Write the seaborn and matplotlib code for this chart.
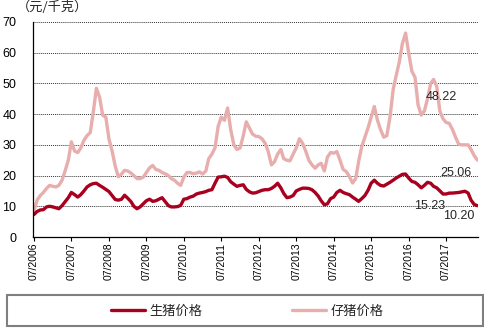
import numpy as np
import pandas as pd
import matplotlib
matplotlib.use("Agg")
import matplotlib.pyplot as plt
import matplotlib.dates as mdates
from matplotlib.patches import Rectangle
import seaborn as sns

# ---- data (monthly, 07/2006 .. 05/2018), 元/千克 ----
start_month = "2006-07-01"
hog_price = [
    7.3, 8.3, 8.8, 8.9, 9.8, 10, 9.8, 9.5, 9.2, 10.2,
    11.5, 12.8, 14.5, 13.8, 13, 13.8, 15, 16.3, 17, 17.4,
    17.5, 16.8, 16.2, 15.5, 14.8, 13.5, 12.2, 12, 12.3, 13.6,
    12.6, 11.5, 10, 9.2, 9.8, 10.8, 11.8, 12.3, 11.6, 11.8,
    12.3, 12.8, 11.5, 10.2, 9.8, 9.8, 9.9, 10.3, 12.3, 12.5,
    13, 13.3, 14, 14.3, 14.5, 14.8, 15.2, 15.4, 17.5, 19.5,
    19.6, 19.8, 19.4, 18, 17.2, 16.5, 16.8, 17, 15.5, 14.7,
    14.3, 14.4, 14.8, 15.2, 15.4, 15.4, 15.8, 16.5, 17.5, 16,
    14.2, 12.8, 13, 13.5, 15, 15.5, 15.9, 15.9, 15.8, 15.4,
    14.5, 13.3, 11.8, 10.5, 10.8, 12.5, 13, 14.5, 15.2, 14.5,
    14.1, 13.8, 13, 12.3, 11.6, 12.5, 13.5, 15.2, 17.5, 18.5,
    17.5, 16.8, 16.6, 17.2, 17.8, 18.5, 19.2, 19.8, 20.4, 20.5,
    19.2, 18.1, 17.8, 17, 16, 16.8, 17.8, 17.5, 16.5, 16,
    15, 14, 14, 14.3, 14.3, 14.4, 14.5, 14.7, 14.9, 14.3,
    12, 10.6, 10.2,
]
piglet_price = [
    8.5, 12, 13.5, 14.5, 15.8, 16.8, 16.5, 16.3, 16.8, 18.5,
    21.5, 25, 31, 28, 27.5, 29, 31.5, 33, 34, 41,
    48.4, 45.5, 39.7, 39, 32, 28, 23, 19.6, 20.5, 21.7,
    21.5, 20.8, 20, 19, 19, 19.5, 21, 22.5, 23.3, 22,
    21.7, 21, 20.6, 20, 19, 18.5, 17.5, 16.8, 19.5, 21,
    21, 20.6, 20.8, 21.2, 20.5, 21.5, 25.5, 27, 29, 36,
    39, 38, 42, 35, 30, 28.5, 29, 33, 37.5, 35.5,
    33.5, 32.8, 32.7, 32, 30.5, 27.8, 23.5, 24.5, 27, 28.5,
    25.5, 25, 24.8, 27, 29, 32, 30.5, 28, 25, 23.5,
    22.4, 23.5, 24, 21.5, 26, 27.5, 27.3, 27.8, 25, 22,
    21.3, 19.7, 17.6, 19, 24.5, 29.5, 32.5, 35.5, 39, 42.5,
    38, 35, 32.5, 33, 39, 48, 52.5, 57, 63, 66.4,
    60, 54, 52, 43, 39.7, 41, 45, 50, 51.3, 49,
    41, 38.5, 37.3, 37, 35, 32.5, 30.2, 30, 30, 30,
    28.5, 26.5, 25.06,
]
series_names = ["生猪价格", "仔猪价格"]
annotations = ["48.22", "25.06", "15.23", "10.20"]
y_label = "（元/千克）"
tick_years = list(range(2006, 2018))

dates = pd.date_range(start_month, periods=len(hog_price), freq="MS")
df = pd.DataFrame({
    "date": np.concatenate([dates, dates]),
    "price": hog_price + piglet_price,
    "series": [series_names[0]] * len(hog_price) + [series_names[1]] * len(piglet_price),
})

sns.set_theme(style="white")
plt.rcParams["font.family"] = ["Liberation Sans", "Noto Sans CJK SC", "DejaVu Sans"]

hog_color = "#A8001E"
pig_color = "#E8ADAD"

fig = plt.figure(figsize=(4.84, 3.28), dpi=100)
ax = fig.add_axes([33 / 484, 1 - 237 / 328, 445 / 484, 215 / 328])

sns.lineplot(data=df[df.series == series_names[1]], x="date", y="price",
             color=pig_color, linewidth=2.4, ax=ax, legend=False)
sns.lineplot(data=df[df.series == series_names[0]], x="date", y="price",
             color=hog_color, linewidth=2.4, ax=ax, legend=False)

ax.set_ylim(0, 70)
ax.set_yticks(range(0, 71, 10))
ax.set_xlim(pd.Timestamp("2006-06-22"), pd.Timestamp("2018-05-08"))
ax.set_xticks([pd.Timestamp(f"{y}-07-01") for y in tick_years])
ax.xaxis.set_major_formatter(mdates.DateFormatter("%m/%Y"))
ax.tick_params(axis="x", labelrotation=90, labelsize=7.5, length=3, width=0.8,
               pad=1, colors="black", direction="out", bottom=True)
ax.tick_params(axis="y", labelsize=9, length=0, pad=12, colors="black")
ax.set_xlabel("")
ax.set_ylabel("")

for s in ["top", "right"]:
    ax.spines[s].set_visible(False)
for s in ["left", "bottom"]:
    ax.spines[s].set_color("black")
    ax.spines[s].set_linewidth(0.9)

ax.yaxis.grid(True, linestyle=(0, (1, 1)), color="#333333", linewidth=0.7)
ax.xaxis.grid(False)
ax.set_axisbelow(True)

# value labels
ax.text(pd.Timestamp("2017-05-15"), 45.6, annotations[0], fontsize=9, ha="center", va="center")
ax.text(pd.Timestamp("2017-10-01"), 21.0, annotations[1], fontsize=9, ha="center", va="center")
ax.text(pd.Timestamp("2017-01-20"), 10.0, annotations[2], fontsize=9, ha="center", va="center")
ax.text(pd.Timestamp("2017-11-01"), 6.8, annotations[3], fontsize=9, ha="center", va="center")

fig.text(17 / 484, 1 - 7 / 328, y_label, fontsize=9.5, ha="left", va="center",
         family=["Noto Sans CJK SC", "DejaVu Sans"])

# legend
handles = [plt.Line2D([], [], color=hog_color, linewidth=2.4),
           plt.Line2D([], [], color=pig_color, linewidth=2.4)]
fig.legend(handles, series_names, loc="center", bbox_to_anchor=(247 / 484, 1 - 311 / 328),
           ncol=2, frameon=False, handlelength=2.6, handletextpad=0.3,
           columnspacing=6.8, prop={"family": ["Noto Sans CJK SC", "DejaVu Sans"], "size": 9.5})
fig.patches.append(Rectangle((7 / 484, 1 - 326 / 328), 476 / 484, 31 / 328,
                             transform=fig.transFigure, fill=False,
                             edgecolor="#7f7f7f", linewidth=1.5))

fig.savefig("out.png", dpi=100)
